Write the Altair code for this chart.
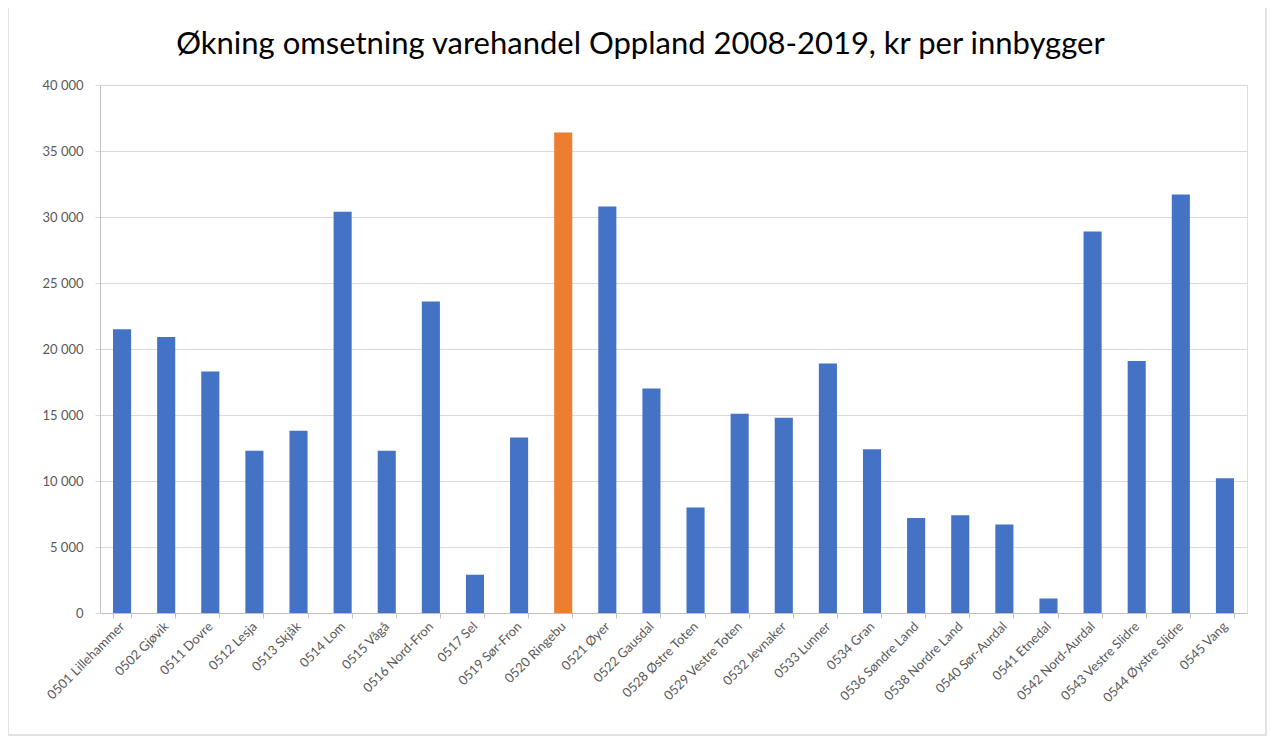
import altair as alt
import pandas as pd

kommuner = [
    "0501 Lillehammer", "0502 Gjøvik", "0511 Dovre", "0512 Lesja", "0513 Skjåk",
    "0514 Lom", "0515 Vågå", "0516 Nord-Fron", "0517 Sel", "0519 Sør-Fron",
    "0520 Ringebu", "0521 Øyer", "0522 Gausdal", "0528 Østre Toten",
    "0529 Vestre Toten", "0532 Jevnaker", "0533 Lunner", "0534 Gran",
    "0536 Søndre Land", "0538 Nordre Land", "0540 Sør-Aurdal", "0541 Etnedal",
    "0542 Nord-Aurdal", "0543 Vestre Slidre", "0544 Øystre Slidre", "0545 Vang",
]
okning = [
    21500, 20900, 18300, 12300, 13800,
    30400, 12300, 23600, 2900, 13300,
    36400, 30800, 17000, 8000,
    15100, 14800, 18900, 12400,
    7200, 7400, 6700, 1100,
    28900, 19100, 31700, 10200,
]
fremhevet = "0520 Ringebu"

df = pd.DataFrame({"kommune": kommuner, "verdi": okning})
df["gruppe"] = ["fremhevet" if k == fremhevet else "normal" for k in kommuner]

FONT = "Lato"
GREY = "#595959"

bars = (
    alt.Chart(df)
    .mark_bar()
    .encode(
        x=alt.X(
            "kommune:N",
            sort=kommuner,
            title=None,
            scale=alt.Scale(paddingInner=0.59, paddingOuter=0.295),
            axis=alt.Axis(
                labelAngle=-45,
                labelAlign="right",
                labelBaseline="middle",
                labelFont=FONT,
                labelFontSize=13,
                labelColor=GREY,
                labelPadding=6,
                domainColor="#bfbfbf",
                tickColor="#bfbfbf",
                tickSize=5,
                tickBand="extent",
                grid=False,
            ),
        ),
        y=alt.Y(
            "verdi:Q",
            title=None,
            scale=alt.Scale(domain=[0, 40000], nice=False),
            axis=alt.Axis(
                values=[0, 5000, 10000, 15000, 20000, 25000, 30000, 35000, 40000],
                labelExpr="replace(format(datum.value, ','), ',', ' ')",
                labelFont=FONT,
                labelFontSize=13,
                labelColor=GREY,
                labelPadding=12,
                domainColor="#bfbfbf",
                tickColor="#d9d9d9",
                tickSize=5,
                gridColor="#d9d9d9",
                gridWidth=1,
            ),
        ),
        color=alt.Color(
            "gruppe:N",
            scale=alt.Scale(domain=["normal", "fremhevet"], range=["#4472C4", "#ED7D31"]),
            legend=None,
        ),
    )
)

# outer chart-area frame (decoration, like Excel's chart border)
frame = (
    alt.Chart(pd.DataFrame({"f": [0]}))
    .mark_rect(fill=None, stroke="#d9d9d9", strokeWidth=1.5)
    .encode(
        x=alt.value(-92),
        x2=alt.value(1166),
        y=alt.value(-78),
        y2=alt.value(650),
    )
)

chart = (
    alt.layer(frame, bars)
    .properties(
        width=1147,
        height=528,
        autosize=alt.AutoSizeParams(type="none"),
        padding={"left": 92, "top": 77, "right": 20, "bottom": 123},
        title=alt.TitleParams(
            "Økning omsetning varehandel Oppland 2008-2019, kr per innbygger",
            font=FONT,
            fontSize=31,
            fontWeight="normal",
            color="#000000",
            anchor="middle",
            baseline="alphabetic",
            offset=30,
            dx=-33,
            dy=109,
        ),
    )
    .configure_view(stroke=None)
    .configure(background="white")
)

chart.save("out.html", embed_options={"renderer": "svg", "actions": False})
